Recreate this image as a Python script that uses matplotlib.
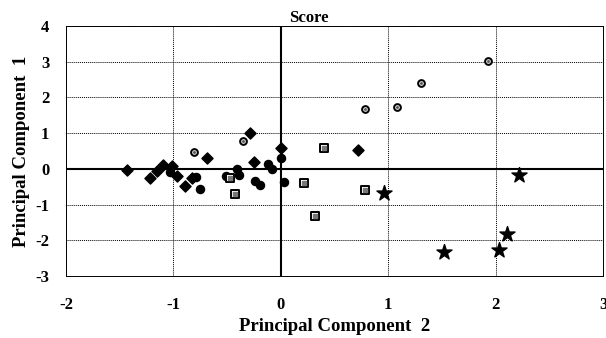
import matplotlib
matplotlib.use("Agg")
import matplotlib.pyplot as plt

plt.rcParams['font.family'] = ['Liberation Serif', 'DejaVu Serif']

# PC2 (x), PC1 (y) scores per group
diamond_x = [-1.43, -1.10, -1.15, -1.22, -1.01, -0.97, -0.89, -0.83, -0.69, -0.29, -0.25, 0.00, 0.72]
diamond_y = [-0.02, 0.11, -0.07, -0.25, 0.07, -0.19, -0.47, -0.27, 0.31, 0.99, 0.19, 0.58, 0.52]

circle_x = [-1.03, -0.79, -0.75, -0.51, -0.41, -0.39, -0.24, -0.19, -0.12, -0.08, 0.00, 0.03]
circle_y = [-0.10, -0.24, -0.56, -0.21, 0.00, -0.16, -0.33, -0.45, 0.14, 0.00, 0.31, -0.38]

ring_x = [-0.81, -0.35, 0.78, 1.08, 1.31, 1.93]
ring_y = [0.47, 0.77, 1.68, 1.73, 2.39, 3.03]

square_x = [-0.47, -0.43, 0.22, 0.40, 0.78, 0.32]
square_y = [-0.25, -0.70, -0.40, 0.58, -0.58, -1.31]

star_x = [0.96, 1.52, 2.03, 2.11, 2.22]
star_y = [-0.69, -2.33, -2.28, -1.81, -0.16]

x_ticks = [-2, -1, 0, 1, 2, 3]
y_ticks = [-3, -2, -1, 0, 1, 2, 3, 4]

fig = plt.figure(figsize=(6.06, 3.38), dpi=100)
ax = fig.add_axes([66/606, 1-276/338, (603-66)/606, (276-26)/338])

ax.set_xlim(-2, 3)
ax.set_ylim(-3, 4)
ax.set_xticks(x_ticks)
ax.set_yticks(y_ticks)
ax.set_xticklabels([str(t) for t in x_ticks])
ax.set_yticklabels([str(t) for t in y_ticks])
ax.tick_params(length=0, labelsize=12)
ax.tick_params(axis='x', pad=15)
ax.tick_params(axis='y', pad=12)
for lab in ax.get_xticklabels() + ax.get_yticklabels():
    lab.set_fontweight('bold')

ax.grid(True, color='black', linestyle=(0, (1, 1)), linewidth=0.7)
for s in ax.spines.values():
    s.set_linestyle((0, (1, 1)))
    s.set_linewidth(0.7)
ax.axhline(0, color='black', linewidth=1.5, zorder=2)
ax.axvline(0, color='black', linewidth=1.5, zorder=2)

ax.scatter(diamond_x, diamond_y, marker='D', s=32, color='black', zorder=3)
ax.scatter(circle_x, circle_y, marker='o', s=34, color='black', zorder=3)
ax.scatter(ring_x, ring_y, marker='o', s=24, facecolor='#d8d8d8', edgecolor='black', linewidths=1.4, zorder=3)
ax.scatter(ring_x, ring_y, marker='.', s=4, color='#555555', zorder=4)
ax.scatter(square_x, square_y, marker='s', s=30, facecolor='white', edgecolor='black', linewidths=1.4, zorder=3)
ax.scatter(square_x, square_y, marker='s', s=6, color='#777777', zorder=4)
ax.scatter(star_x, star_y, marker='*', s=130, color='black', zorder=3)

ax.set_xlabel('Principal Component  2', fontsize=13.5, fontweight='bold', labelpad=4)
ax.set_ylabel('Principal Component  1', fontsize=13.5, fontweight='bold', labelpad=4)
ax.text(0.26, 4.0, 'Score', fontsize=12, fontweight='bold', ha='center', va='bottom')

fig.savefig('out.png', dpi=100)
